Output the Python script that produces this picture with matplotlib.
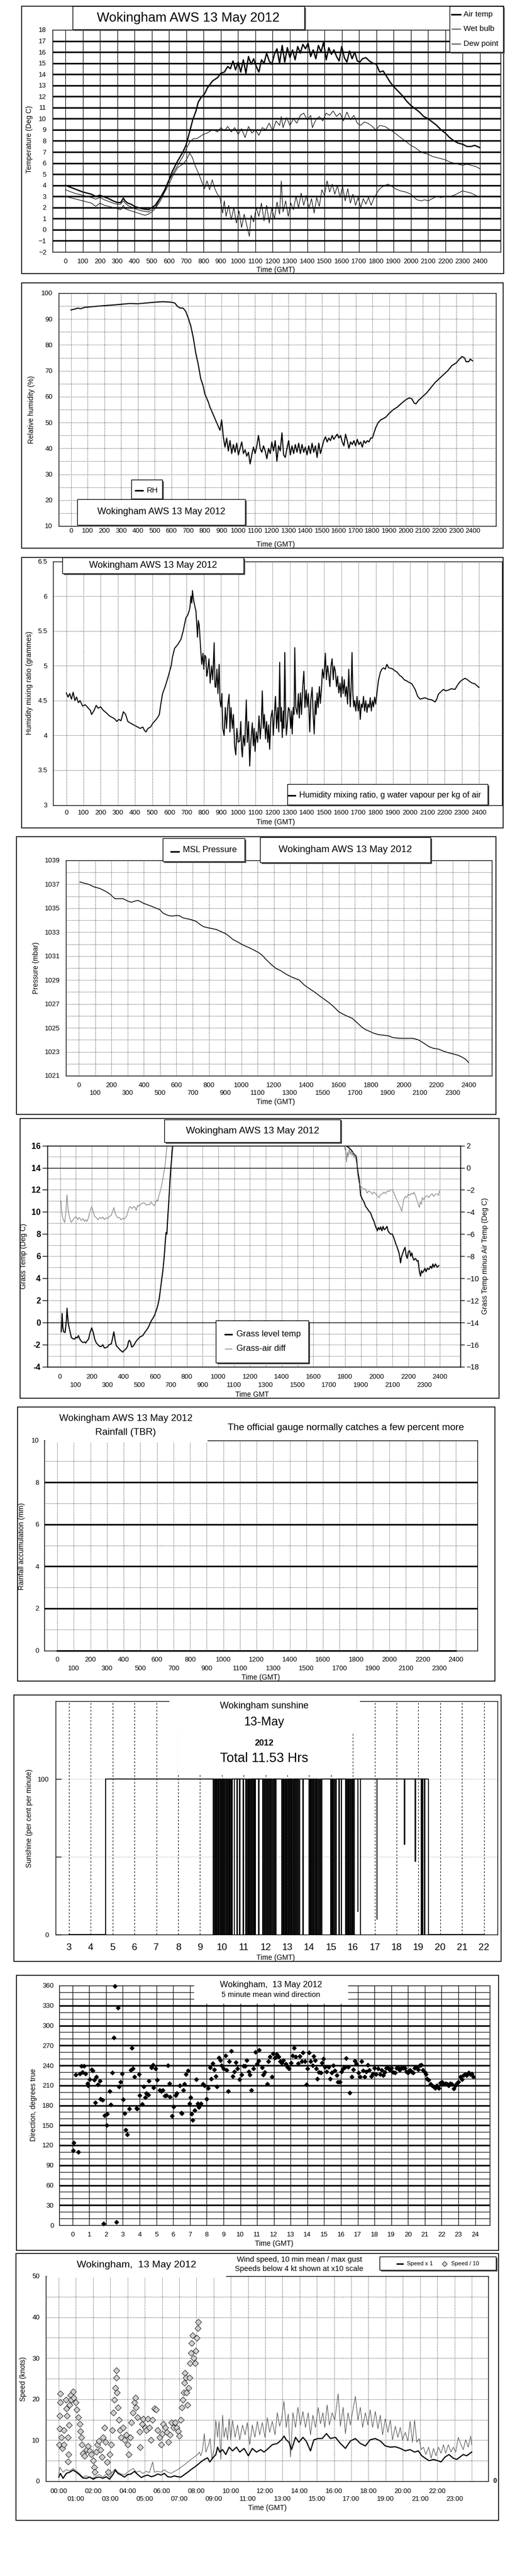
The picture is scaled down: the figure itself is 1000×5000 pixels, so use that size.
import numpy as np
import matplotlib
matplotlib.use("Agg")
import matplotlib.pyplot as plt
from matplotlib.patches import Rectangle
from matplotlib.lines import Line2D

REG = ["Liberation Sans", "DejaVu Sans"]
NARROW = REG
plt.rcParams["font.family"] = REG
plt.rcParams["axes.linewidth"] = 1.0

# ---------------- data ----------------
# time axis for panels 1-6 is HHMM
HHMM_ALL = list(range(0, 2500, 100))
HHMM_EVEN = list(range(0, 2500, 200))
HHMM_ODD = list(range(100, 2400, 200))

AIR_TEMP = [(0, 4.0), (25, 3.85), (50, 3.7), (75, 3.55), (100, 3.4), (125, 3.3), (150, 3.2), (175, 3.0),
            (200, 3.1), (225, 2.95), (250, 2.8), (275, 2.6), (300, 2.45), (320, 2.45), (335, 2.85), (345, 2.6),
            (360, 2.4), (380, 2.3), (400, 2.1), (420, 2.0), (440, 1.9), (460, 1.85), (480, 1.8), (500, 2.0),
            (520, 2.2), (550, 2.9), (575, 3.6), (600, 4.5), (620, 5.3), (650, 6.2), (680, 7.0), (698, 7.6),
            (717, 8.7), (737, 9.9), (756, 10.7), (769, 11.5), (785, 11.9), (804, 12.2), (823, 12.8),
            (852, 13.4), (881, 13.7), (900, 14.1), (920, 14.2), (940, 14.7), (955, 14.5), (970, 15.2),
            (985, 14.4), (1000, 15.1), (1015, 14.2), (1030, 15.3), (1045, 14.1), (1060, 15.6), (1075, 14.9),
            (1090, 15.4), (1105, 14.7), (1120, 14.2), (1135, 15.3), (1150, 15.0), (1165, 15.9), (1180, 15.2),
            (1195, 14.9), (1210, 15.8), (1225, 16.3), (1240, 15.0), (1255, 16.6), (1270, 15.1), (1285, 16.4),
            (1300, 15.5), (1315, 16.2), (1330, 15.3), (1345, 16.5), (1360, 15.9), (1375, 16.7), (1390, 16.3),
            (1405, 16.8), (1420, 15.6), (1435, 16.2), (1450, 15.4), (1465, 16.6), (1480, 16.0), (1495, 16.9),
            (1510, 15.3), (1525, 16.4), (1540, 15.8), (1555, 16.2), (1570, 15.6), (1585, 15.2), (1600, 16.5),
            (1615, 15.5), (1630, 15.1), (1645, 16.1), (1660, 15.4), (1675, 16.0), (1690, 15.2), (1705, 15.1),
            (1720, 15.4), (1740, 15.5), (1760, 15.2), (1780, 15.0), (1800, 14.9), (1820, 14.2), (1840, 14.3),
            (1860, 13.8), (1880, 13.3), (1900, 12.9), (1925, 12.5), (1950, 12.1), (1975, 11.6), (2000, 11.2),
            (2025, 10.9), (2050, 10.6), (2075, 10.2), (2100, 10.0), (2125, 9.7), (2150, 9.4), (2175, 9.0),
            (2200, 8.7), (2225, 8.3), (2250, 8.0), (2275, 7.8), (2300, 7.7), (2325, 7.5), (2350, 7.5),
            (2370, 7.6), (2385, 7.5), (2400, 7.4)]

WET_BULB = [(0, 3.6), (25, 3.45), (50, 3.3), (75, 3.2), (100, 3.1), (125, 3.0), (150, 2.9), (175, 2.75),
            (200, 2.9), (225, 2.7), (250, 2.55), (275, 2.4), (300, 2.3), (320, 2.3), (335, 2.6), (345, 2.4),
            (360, 2.2), (380, 2.05), (400, 1.9), (420, 1.8), (440, 1.7), (460, 1.65), (480, 1.6), (500, 1.8),
            (520, 2.0), (550, 2.8), (575, 3.5), (600, 4.4), (620, 5.0), (650, 5.8), (680, 6.6), (700, 7.3),
            (720, 7.9), (740, 8.2), (760, 8.2), (780, 8.4), (800, 8.6), (820, 8.7), (840, 8.9), (860, 9.0),
            (880, 8.8), (900, 9.2), (920, 8.9), (940, 9.3), (960, 8.8), (980, 9.2), (1000, 8.6), (1020, 9.1),
            (1040, 8.3), (1060, 9.3), (1080, 8.7), (1100, 9.0), (1120, 8.5), (1140, 9.2), (1160, 9.0),
            (1180, 9.6), (1200, 8.9), (1220, 9.8), (1240, 9.4), (1250, 10.2), (1260, 9.2), (1280, 10.1),
            (1300, 9.4), (1320, 10.0), (1340, 9.6), (1360, 10.3), (1380, 10.5), (1400, 9.9), (1420, 10.3),
            (1430, 9.2), (1450, 9.9), (1470, 10.2), (1490, 9.8), (1510, 10.5), (1530, 10.3), (1550, 10.7),
            (1570, 10.2), (1590, 10.5), (1610, 9.8), (1630, 10.6), (1650, 9.9), (1670, 10.3), (1690, 9.6),
            (1710, 9.4), (1730, 9.7), (1750, 9.6), (1770, 9.4), (1790, 9.1), (1800, 9.0), (1820, 9.4),
            (1850, 9.3), (1880, 9.0), (1900, 8.8), (1925, 8.5), (1950, 8.2), (1975, 7.9), (2000, 7.6),
            (2025, 7.4), (2050, 7.1), (2075, 6.9), (2100, 6.8), (2125, 6.6), (2150, 6.5), (2175, 6.4),
            (2200, 6.3), (2225, 6.1), (2250, 6.0), (2275, 5.9), (2300, 5.8), (2325, 5.9), (2350, 5.8),
            (2375, 5.7), (2400, 5.5)]

DEW_POINT = [(0, 3.0), (25, 2.9), (50, 2.8), (75, 2.7), (100, 2.6), (125, 2.5), (150, 2.4), (175, 2.1),
             (200, 2.4), (225, 2.2), (250, 2.1), (275, 2.0), (300, 1.9), (320, 1.8), (335, 2.2), (345, 1.9),
             (360, 1.8), (380, 1.7), (400, 1.6), (420, 1.5), (440, 1.4), (460, 1.3), (480, 1.4), (500, 1.6),
             (520, 1.9), (550, 2.6), (575, 3.4), (600, 4.1), (620, 4.8), (650, 5.6), (680, 5.9), (700, 6.3),
             (720, 6.9), (735, 6.5), (750, 5.8), (770, 5.1), (790, 4.3), (805, 3.7), (820, 4.4), (835, 3.6),
             (850, 4.5), (865, 3.7), (880, 3.2), (895, 2.9), (910, 1.5), (920, 2.6), (930, 1.2), (945, 2.2),
             (960, 0.9), (975, 2.0), (990, 0.6), (1005, 1.7), (1020, 0.2), (1035, 1.4), (1050, 0.4),
             (1065, -0.6), (1075, 1.3), (1090, 0.7), (1105, 2.0), (1120, 1.2), (1135, 2.4), (1150, 0.8),
             (1165, 2.2), (1180, 0.6), (1195, 1.9), (1210, 1.0), (1225, 2.5), (1240, 1.4), (1250, 4.4),
             (1260, 1.6), (1275, 2.6), (1290, 1.2), (1305, 2.4), (1320, 1.8), (1335, 3.0), (1350, 2.0),
             (1365, 3.3), (1380, 2.2), (1395, 3.1), (1410, 1.9), (1425, 2.8), (1440, 1.5), (1455, 2.9),
             (1470, 2.1), (1485, 3.6), (1500, 3.1), (1515, 4.4), (1530, 3.4), (1545, 4.1), (1560, 3.2),
             (1575, 4.0), (1590, 2.9), (1605, 3.9), (1620, 2.6), (1635, 3.7), (1650, 2.4), (1665, 3.2),
             (1680, 2.2), (1695, 2.9), (1710, 2.0), (1725, 2.8), (1740, 2.3), (1755, 2.9), (1770, 2.2),
             (1785, 2.8), (1800, 3.2), (1815, 3.6), (1830, 3.8), (1850, 4.0), (1870, 4.1), (1890, 3.9),
             (1910, 3.7), (1940, 3.5), (1970, 3.4), (2000, 3.2), (2020, 2.9), (2035, 2.7), (2060, 2.6),
             (2080, 2.7), (2100, 2.6), (2125, 2.8), (2150, 3.0), (2175, 2.9), (2200, 3.0), (2225, 3.0),
             (2250, 3.1), (2275, 3.3), (2300, 3.5), (2325, 3.4), (2350, 3.3), (2375, 3.1), (2385, 3.0)]

RH = [(0, 93.5), (20, 93.8), (40, 94.2), (60, 94.0), (80, 94.5), (100, 94.6), (150, 94.9), (200, 95.2),
      (250, 95.4), (300, 95.7), (350, 96.0), (400, 95.9), (450, 96.2), (500, 96.5), (550, 96.7), (600, 96.5),
      (620, 96.2), (635, 95.0), (650, 94.3), (670, 94.2), (685, 93.0), (700, 90.5), (715, 87.5), (730, 83.0),
      (745, 77.0), (760, 72.5), (775, 67.0), (790, 64.0), (800, 61.0), (810, 59.5), (820, 58.0), (830, 56.0),
      (840, 54.5), (850, 53.0), (860, 51.5), (870, 50.0), (880, 48.5), (890, 47.0), (900, 51.0), (910, 44.5),
      (920, 40.5), (930, 44.0), (940, 39.0), (950, 43.0), (960, 38.0), (970, 41.5), (980, 38.5), (990, 42.0),
      (1000, 37.5), (1010, 40.0), (1020, 42.5), (1030, 38.0), (1040, 39.5), (1050, 37.0), (1060, 38.5),
      (1070, 34.0), (1080, 37.5), (1090, 40.5), (1100, 38.0), (1110, 41.0), (1120, 45.0), (1130, 40.0),
      (1140, 38.5), (1150, 41.0), (1160, 39.0), (1170, 36.0), (1180, 40.0), (1190, 38.0), (1200, 42.5),
      (1210, 39.0), (1220, 43.0), (1230, 35.0), (1240, 41.0), (1250, 39.0), (1260, 46.0), (1270, 37.5),
      (1280, 36.5), (1290, 40.0), (1300, 43.0), (1310, 37.5), (1320, 41.0), (1330, 38.0), (1340, 41.5),
      (1350, 38.5), (1360, 42.0), (1370, 38.0), (1380, 41.5), (1390, 38.5), (1400, 40.5), (1410, 37.5),
      (1420, 41.0), (1430, 38.0), (1440, 42.0), (1450, 38.5), (1460, 41.0), (1470, 36.5), (1480, 42.0),
      (1490, 38.0), (1500, 40.5), (1510, 43.0), (1520, 44.5), (1530, 42.5), (1540, 44.0), (1550, 43.0),
      (1560, 45.0), (1570, 43.5), (1580, 44.5), (1590, 45.5), (1600, 44.0), (1610, 45.0), (1620, 42.5),
      (1630, 41.0), (1640, 45.5), (1650, 43.0), (1660, 40.0), (1670, 42.5), (1680, 41.5), (1690, 43.0),
      (1700, 41.0), (1710, 43.5), (1720, 41.5), (1730, 42.5), (1740, 40.5), (1750, 43.0), (1760, 42.0),
      (1770, 43.0), (1780, 42.5), (1790, 44.0), (1800, 44.0), (1810, 46.0), (1820, 48.0), (1835, 50.0),
      (1850, 51.0), (1879, 52.0), (1900, 53.5), (1925, 55.0), (1950, 56.0), (1975, 57.5), (2000, 58.8),
      (2020, 59.5), (2035, 59.2), (2050, 57.5), (2060, 57.2), (2075, 58.5), (2100, 60.0), (2125, 61.5),
      (2150, 63.5), (2175, 65.5), (2200, 67.0), (2225, 68.5), (2250, 70.0), (2275, 72.0), (2300, 73.0),
      (2320, 74.5), (2335, 75.5), (2350, 75.0), (2360, 73.5), (2375, 73.5), (2385, 74.5), (2395, 74.0),
      (2400, 73.8)]

MIXING = [(0, 4.61), (10, 4.55), (20, 4.6), (30, 4.52), (40, 4.62), (50, 4.5), (60, 4.55), (70, 4.47),
          (80, 4.5), (95, 4.42), (110, 4.44), (125, 4.4), (140, 4.36), (147, 4.3), (160, 4.35), (174, 4.43),
          (185, 4.39), (200, 4.41), (215, 4.36), (230, 4.33), (251, 4.28), (265, 4.26), (280, 4.24),
          (294, 4.2), (305, 4.23), (318, 4.21), (332, 4.34), (345, 4.3), (358, 4.2), (370, 4.18), (385, 4.16),
          (400, 4.14), (415, 4.12), (430, 4.1), (445, 4.12), (455, 4.07), (464, 4.05), (475, 4.1),
          (490, 4.12), (505, 4.18), (520, 4.22), (535, 4.27), (541, 4.3), (550, 4.45), (560, 4.6),
          (575, 4.7), (590, 4.82), (599, 4.9), (610, 5.0), (618, 5.13), (630, 5.25), (647, 5.3), (667, 5.38),
          (680, 5.5), (696, 5.69), (705, 5.72), (715, 5.79), (720, 5.85), (725, 6.0), (730, 5.9), (734, 6.08),
          (740, 5.95), (748, 5.85), (754, 5.79), (760, 5.55), (763, 5.41), (768, 5.65), (773, 5.59),
          (780, 5.3), (788, 5.02), (795, 5.18), (800, 4.95), (806, 5.15), (812, 5.12), (817, 4.85),
          (821, 4.9), (830, 5.1), (837, 4.75), (845, 5.0), (852, 4.8), (860, 5.33), (865, 4.7), (870, 4.69),
          (876, 4.95), (882, 4.6), (889, 5.02), (894, 4.5), (899, 4.41), (905, 4.6), (910, 4.1), (918, 4.0),
          (925, 4.4), (932, 4.1), (940, 4.45), (947, 4.59), (952, 4.05), (958, 4.4), (966, 4.1), (972, 4.3),
          (979, 3.85), (986, 3.72), (992, 4.1), (1000, 3.9), (1009, 3.92), (1015, 4.2), (1020, 3.8),
          (1024, 3.69), (1030, 4.0), (1038, 3.85), (1047, 4.51), (1053, 3.9), (1060, 4.2), (1067, 3.56),
          (1073, 3.9), (1082, 4.18), (1088, 3.85), (1093, 4.1), (1098, 3.77), (1105, 4.05), (1113, 3.9),
          (1121, 4.28), (1128, 3.95), (1135, 4.2), (1140, 4.64), (1146, 4.1), (1152, 4.3), (1159, 3.95),
          (1165, 4.2), (1172, 3.9), (1177, 4.15), (1183, 3.8), (1190, 4.25), (1198, 4.36), (1204, 4.0),
          (1210, 4.3), (1217, 4.56), (1223, 4.1), (1230, 4.4), (1236, 4.05), (1241, 5.05), (1247, 4.2),
          (1251, 4.4), (1256, 3.97), (1262, 4.35), (1266, 4.1), (1271, 5.19), (1276, 4.3), (1280, 4.0),
          (1285, 4.15), (1292, 4.4), (1299, 4.36), (1305, 4.1), (1310, 4.35), (1314, 4.02), (1320, 4.4),
          (1325, 4.3), (1329, 5.26), (1335, 4.4), (1343, 4.3), (1350, 4.6), (1355, 4.25), (1362, 4.61),
          (1368, 4.3), (1375, 4.7), (1382, 4.92), (1388, 4.4), (1395, 4.65), (1401, 4.41), (1408, 4.6),
          (1416, 4.05), (1422, 4.5), (1430, 4.69), (1436, 4.3), (1442, 4.02), (1448, 4.5), (1453, 4.3),
          (1459, 4.61), (1465, 4.4), (1472, 4.7), (1478, 4.46), (1485, 4.7), (1490, 4.95), (1498, 4.82),
          (1503, 5.0), (1507, 5.18), (1513, 4.8), (1520, 5.0), (1527, 4.87), (1533, 4.7), (1540, 5.0),
          (1546, 5.1), (1553, 4.8), (1558, 5.0), (1565, 4.92), (1572, 4.7), (1578, 4.85), (1585, 4.61),
          (1592, 4.75), (1598, 4.55), (1604, 4.84), (1610, 4.6), (1617, 4.8), (1623, 4.56), (1630, 4.7),
          (1636, 4.45), (1643, 4.95), (1648, 4.6), (1652, 4.41), (1657, 4.7), (1662, 5.19), (1667, 4.6),
          (1672, 4.41), (1677, 4.5), (1684, 4.35), (1691, 4.56), (1698, 4.35), (1704, 4.5), (1710, 4.23),
          (1716, 4.45), (1722, 4.4), (1729, 4.56), (1735, 4.35), (1742, 4.5), (1749, 4.33), (1755, 4.45),
          (1762, 4.4), (1768, 4.54), (1774, 4.35), (1781, 4.5), (1787, 4.41), (1794, 4.55), (1800, 4.45),
          (1807, 4.61), (1815, 4.78), (1826, 4.9), (1835, 4.95), (1845, 4.97), (1855, 4.95), (1865, 5.02),
          (1875, 4.97), (1894, 4.96), (1910, 4.93), (1923, 4.91), (1940, 4.86), (1952, 4.84), (1965, 4.8),
          (1981, 4.78), (1995, 4.76), (2010, 4.74), (2029, 4.66), (2044, 4.56), (2058, 4.52), (2070, 4.53),
          (2087, 4.54), (2105, 4.52), (2126, 4.51), (2145, 4.48), (2155, 4.52), (2164, 4.59), (2180, 4.63),
          (2193, 4.66), (2208, 4.64), (2222, 4.65), (2240, 4.67), (2261, 4.66), (2275, 4.72), (2290, 4.77),
          (2305, 4.8), (2319, 4.82), (2333, 4.8), (2348, 4.77), (2362, 4.75), (2377, 4.74), (2390, 4.71),
          (2400, 4.69)]

PRESSURE = [(6, 1037.2), (30, 1037.1), (60, 1037.0), (90, 1036.8), (129, 1036.65), (160, 1036.45),
            (190, 1036.2), (221, 1035.8), (250, 1035.8), (272, 1035.8), (300, 1035.6), (323, 1035.5),
            (345, 1035.6), (364, 1035.65), (380, 1035.55), (395, 1035.43), (420, 1035.3), (450, 1035.15),
            (475, 1035.0), (497, 1034.9), (517, 1034.6), (540, 1034.45), (558, 1034.37), (580, 1034.35),
            (600, 1034.4), (620, 1034.37), (640, 1034.2), (660, 1034.14), (690, 1034.05), (722, 1033.9),
            (745, 1033.65), (767, 1033.46), (800, 1033.35), (845, 1033.23), (875, 1033.05), (906, 1032.85),
            (930, 1032.6), (947, 1032.4), (975, 1032.2), (1008, 1031.94), (1040, 1031.75), (1070, 1031.56),
            (1110, 1031.26), (1130, 1031.05), (1151, 1030.73), (1180, 1030.35), (1213, 1029.97),
            (1240, 1029.8), (1274, 1029.5), (1310, 1029.25), (1356, 1029.0), (1390, 1028.55), (1417, 1028.3),
            (1450, 1028.0), (1479, 1027.7), (1510, 1027.4), (1540, 1027.1), (1570, 1026.75), (1601, 1026.33),
            (1640, 1026.05), (1683, 1025.8), (1715, 1025.4), (1744, 1025.04), (1765, 1024.85),
            (1785, 1024.74), (1815, 1024.55), (1847, 1024.43), (1880, 1024.38), (1908, 1024.33),
            (1930, 1024.2), (1949, 1024.16), (1980, 1024.13), (2020, 1024.12), (2051, 1024.13),
            (2070, 1024.08), (2092, 1023.98), (2120, 1023.75), (2153, 1023.45), (2180, 1023.3),
            (2215, 1023.22), (2245, 1023.05), (2276, 1022.92), (2310, 1022.8), (2337, 1022.7),
            (2360, 1022.55), (2378, 1022.4), (2390, 1022.25), (2399, 1022.1)]

# grass temperature goes off the top of the scale in the middle of the day (nan = gap)
GRASS_TEMP = [(8, -0.84), (13, 0.83), (18, -0.5), (23, -0.84), (32, -0.9), (40, 0.2), (44, 1.3), (49, 0.4),
              (53, -0.17), (60, -0.6), (71, -1.34), (80, -1.45), (92, -1.5), (100, -1.3), (108, -1.4),
              (116, -1.17), (125, -1.5), (135, -1.7), (145, -1.8), (155, -1.75), (162, -1.85), (170, -1.67),
              (180, -1.5), (190, -0.9), (200, -0.47), (210, -0.9), (219, -1.5), (229, -1.84), (240, -2.0),
              (250, -2.15), (260, -2.17), (270, -2.0), (280, -2.3), (292, -2.25), (300, -2.2), (310, -2.0),
              (324, -1.92), (332, -1.4), (340, -0.84), (348, -1.6), (356, -2.1), (366, -2.25), (375, -2.4),
              (385, -2.55), (397, -2.67), (405, -2.5), (414, -2.42), (425, -2.2), (432, -1.75), (437, -1.6),
              (445, -1.75), (452, -2.2), (460, -2.17), (470, -1.95), (480, -1.7), (492, -1.5), (505, -1.3),
              (523, -1.17), (535, -0.9), (545, -0.7), (555, -0.5), (565, -0.2), (576, 0.16), (587, 0.4),
              (597, 0.66), (608, 1.1), (618, 1.58), (626, 2.1), (634, 3.0), (642, 3.9), (649, 4.65),
              (655, 5.5), (660, 6.3), (665, 7.4), (670, 8.15), (675, 8.0), (681, 9.64), (688, 11.2),
              (695, 12.97), (703, 14.5), (712, 16.0), (np.nan, np.nan),
              (1805, 16.0), (1826, 15.8), (1845, 15.5), (1858, 15.2), (1868, 15.1), (1873, 14.8),
              (1878, 14.0), (1884, 13.4), (1889, 13.0), (1894, 12.3), (1899, 11.5), (1908, 11.2),
              (1920, 10.9), (1930, 10.5), (1941, 10.3), (1950, 10.1), (1962, 9.9), (1972, 9.5), (1983, 9.15),
              (1993, 8.7), (2004, 8.3), (2010, 8.6), (2018, 8.4), (2025, 8.65), (2033, 8.3), (2040, 8.7),
              (2048, 8.4), (2057, 8.5), (2065, 8.7), (2072, 8.3), (2078, 8.15), (2088, 8.0), (2099, 8.0),
              (2110, 7.6), (2120, 7.15), (2130, 6.8), (2141, 6.3), (2147, 5.8), (2151, 5.4), (2156, 5.9),
              (2162, 6.15), (2170, 6.5), (2179, 6.8), (2186, 6.1), (2193, 5.8), (2200, 6.4), (2208, 6.5),
              (2215, 6.0), (2222, 6.3), (2228, 5.9), (2235, 5.65), (2245, 5.8), (2256, 5.55), (2262, 5.6),
              (2270, 4.6), (2277, 4.2), (2283, 4.7), (2290, 4.5), (2298, 4.7), (2305, 4.9), (2312, 4.6),
              (2320, 4.9), (2330, 4.8), (2340, 5.1), (2348, 4.9), (2355, 5.3), (2362, 5.0), (2372, 5.3),
              (2382, 5.0), (2393, 5.15)]

GRASS_AIR_DIFF = [(6, -3.0), (10, -4.0), (18, -4.6), (29, -4.94), (36, -4.2), (44, -2.44), (48, -3.3),
                  (53, -4.0), (62, -4.6), (71, -4.94), (82, -4.7), (92, -4.5), (103, -4.44), (112, -4.7),
                  (122, -4.5), (134, -4.77), (145, -4.6), (155, -4.85), (162, -4.7), (170, -4.86),
                  (180, -4.5), (190, -3.9), (200, -3.52), (210, -4.0), (219, -4.4), (229, -4.52),
                  (240, -4.7), (250, -4.5), (260, -4.6), (270, -4.45), (280, -4.7), (292, -4.52),
                  (302, -4.6), (312, -4.4), (324, -4.3), (333, -3.9), (340, -3.6), (348, -4.1), (358, -4.4),
                  (366, -4.52), (375, -4.5), (385, -4.7), (395, -4.6), (408, -4.6), (420, -4.4), (430, -3.9),
                  (437, -3.6), (445, -3.52), (455, -3.7), (465, -3.5), (475, -3.6), (481, -3.86),
                  (490, -3.4), (500, -3.5), (510, -3.3), (520, -3.2), (534, -3.19), (545, -3.4), (555, -3.3),
                  (565, -3.36), (575, -3.1), (585, -3.3), (597, -3.44), (605, -3.1), (612, -2.9),
                  (618, -3.02), (623, -2.6), (628, -2.36), (635, -2.0), (642, -1.6), (649, -1.03),
                  (655, -0.5), (660, -0.1), (664, 0.3), (669, 1.0), (674, 1.8), (678, 2.1), (np.nan, np.nan),
                  (1795, 2.1), (1800, 1.6), (1805, 1.8), (1810, 0.5), (1815, 1.4), (1820, 1.0), (1826, 1.7),
                  (1832, 1.2), (1838, 1.5), (1845, 1.1), (1850, 1.4), (1857, 0.9), (1863, 1.2), (1868, 0.8),
                  (1874, 0.3), (1879, -0.6), (1884, -1.03), (1889, -1.4), (1899, -1.7), (1910, -1.85),
                  (1920, -1.9), (1931, -1.95), (1940, -2.3), (1950, -2.1), (1962, -2.2), (1972, -2.4),
                  (1982, -2.2), (1994, -2.36), (2004, -2.55), (2015, -2.7), (2025, -2.4), (2036, -2.36),
                  (2046, -2.2), (2057, -2.35), (2067, -2.1), (2078, -2.15), (2088, -2.0), (2099, -2.0),
                  (2110, -2.3), (2120, -2.7), (2131, -3.0), (2141, -3.36), (2150, -3.6), (2158, -3.94),
                  (2165, -3.4), (2172, -2.86), (2180, -2.6), (2190, -2.7), (2200, -2.36), (2210, -2.5),
                  (2220, -2.3), (2230, -2.4), (2235, -2.2), (2245, -2.5), (2256, -3.02), (2263, -3.3),
                  (2269, -3.6), (2276, -3.1), (2283, -3.3), (2288, -2.7), (2298, -2.9), (2308, -2.6),
                  (2319, -2.53), (2330, -2.7), (2340, -2.45), (2351, -2.36), (2360, -2.6), (2370, -2.4),
                  (2382, -2.36), (2390, -2.5), (2397, -2.1)]

RAIN_T = [0, 2400]
RAIN_MM = [0.0, 0.0]

# sunshine: recorder 03-22h, sun from SUN_ON to SUN_OFF, with dips (start, end, value %)
SUN_HOURS = (3.0, 22.0)
SUN_ON, SUN_OFF = 4.68, 19.47
SUN_DIPS = [(9.60, 9.63, 0), (9.66, 9.70, 0), (9.72, 9.74, 0), (9.77, 9.82, 0), (9.85, 9.87, 0),
            (9.90, 9.95, 0), (9.97, 10.00, 0), (10.02, 10.06, 0), (10.09, 10.11, 0), (10.13, 10.18, 0),
            (10.21, 10.23, 0), (10.26, 10.31, 0), (10.33, 10.36, 0), (10.38, 10.42, 0), (10.45, 10.48, 0),
            (10.56, 10.58, 0), (10.70, 10.72, 0), (10.80, 10.83, 0), (10.98, 11.00, 0),
            (11.10, 11.14, 0), (11.16, 11.20, 0), (11.23, 11.25, 0), (11.28, 11.33, 0), (11.36, 11.38, 0),
            (11.41, 11.45, 0), (11.48, 11.50, 0), (11.52, 11.55, 0), (11.68, 11.70, 0),
            (11.86, 11.90, 0), (11.93, 11.96, 0), (12.00, 12.04, 0), (12.08, 12.10, 0), (12.14, 12.18, 0),
            (12.22, 12.25, 0), (12.30, 12.33, 0), (12.38, 12.42, 0), (12.45, 12.47, 0),
            (12.74, 12.78, 0), (12.81, 12.83, 0), (12.86, 12.90, 0), (12.93, 12.95, 0), (12.98, 13.03, 0),
            (13.06, 13.08, 0), (13.11, 13.15, 0), (13.18, 13.20, 0), (13.24, 13.28, 0), (13.31, 13.33, 0),
            (13.37, 13.41, 0), (13.45, 13.48, 0), (13.52, 13.56, 0), (13.70, 13.72, 0),
            (13.99, 14.03, 0), (14.06, 14.08, 0), (14.11, 14.16, 0), (14.19, 14.21, 0), (14.25, 14.29, 0),
            (14.32, 14.35, 0), (14.39, 14.43, 0), (14.47, 14.50, 0), (14.54, 14.58, 0),
            (14.98, 15.02, 0), (15.05, 15.08, 0), (15.11, 15.15, 0), (15.19, 15.23, 0),
            (15.35, 15.37, 0), (15.47, 15.48, 0),
            (15.66, 15.69, 0), (15.72, 15.76, 0), (15.79, 15.81, 0), (15.84, 15.88, 0), (15.91, 15.94, 0),
            (15.97, 16.00, 0), (16.05, 16.06, 0), (16.22, 16.23, 15), (16.35, 16.36, 0), (17.10, 17.11, 10),
            (18.36, 18.37, 58), (18.85, 18.86, 47), (19.12, 19.14, 0), (19.18, 19.20, 0), (19.28, 19.30, 0)]
SUN_HOUR_TICKS = list(range(3, 23))

WIND_DIR = [(0.04, 112), (0.08, 124), (0.2, 226), (0.34, 110), (0.44, 228), (0.53, 239), (0.6, 230),
            (0.67, 239), (0.79, 228), (0.89, 213), (0.93, 210), (1.03, 219), (1.13, 234), (1.19, 232),
            (1.29, 218), (1.37, 184), (1.43, 223), (1.52, 211), (1.62, 217), (1.68, 190), (1.78, 188),
            (1.86, 2), (1.92, 165), (2.02, 150), (2.06, 167), (2.22, 201), (2.28, 181), (2.36, 229),
            (2.46, 282), (2.51, 359), (2.61, 5), (2.71, 327), (2.77, 208), (2.87, 215), (2.95, 228),
            (3.01, 189), (3.11, 168), (3.17, 143), (3.25, 136), (3.37, 175), (3.47, 233), (3.54, 266),
            (3.6, 235), (3.7, 223), (3.8, 176), (3.86, 175), (3.96, 227), (4.0, 195), (4.14, 182),
            (4.24, 208), (4.33, 192), (4.4, 198), (4.53, 196), (4.55, 217), (4.69, 237), (4.79, 241),
            (4.83, 207), (4.95, 235), (5.05, 218), (5.19, 203), (5.29, 201), (5.39, 203), (5.49, 194),
            (5.58, 195), (5.68, 240), (5.78, 213), (5.82, 193), (5.94, 164), (6.02, 178), (6.14, 195),
            (6.22, 198), (6.38, 210), (6.48, 169), (6.53, 168), (6.61, 203), (6.67, 212), (6.77, 227),
            (6.87, 232), (6.97, 183), (7.03, 192), (7.11, 167), (7.17, 158), (7.27, 173), (7.37, 219),
            (7.47, 183), (7.52, 177), (7.66, 183), (7.76, 212), (7.86, 210), (8.0, 190), (8.08, 206),
            (8.2, 237), (8.28, 220), (8.36, 243), (8.46, 234), (8.55, 224), (8.61, 208), (8.71, 252),
            (8.81, 248), (8.89, 240), (8.99, 235), (9.11, 255), (9.19, 233), (9.29, 201), (9.35, 246),
            (9.45, 262), (9.54, 224), (9.64, 231), (9.74, 245), (9.84, 235), (9.94, 219), (10.08, 226),
            (10.2, 239), (10.3, 239), (10.38, 248), (10.5, 231), (10.57, 226), (10.67, 203), (10.79, 235),
            (10.89, 260), (10.99, 242), (11.09, 247), (11.13, 263), (11.29, 237), (11.37, 226), (11.47, 230),
            (11.62, 212), (11.68, 246), (11.76, 253), (11.88, 223), (11.96, 258), (12.08, 252), (12.16, 257),
            (12.28, 253), (12.38, 246), (12.48, 244), (12.57, 248), (12.71, 242), (12.81, 238), (12.91, 235),
            (13.01, 244), (13.11, 255), (13.21, 266), (13.31, 253), (13.45, 243), (13.54, 254), (13.66, 246),
            (13.74, 259), (13.84, 246), (13.94, 211), (14.0, 235), (14.1, 259), (14.2, 246), (14.3, 240),
            (14.36, 254), (14.46, 248), (14.53, 235), (14.59, 220), (14.69, 230), (14.79, 229), (14.85, 244),
            (14.95, 250), (15.05, 238), (15.15, 231), (15.25, 238), (15.35, 220), (15.45, 229), (15.54, 240),
            (15.64, 232), (15.74, 225), (15.82, 215), (15.94, 215), (16.04, 231), (16.12, 235), (16.22, 237),
            (16.32, 251), (16.44, 238), (16.53, 199), (16.63, 223), (16.73, 234), (16.83, 247), (16.93, 242),
            (17.03, 229), (17.13, 223), (17.23, 246), (17.33, 232), (17.41, 223), (17.5, 231), (17.6, 241),
            (17.7, 233), (17.8, 224), (17.9, 228), (18.0, 236), (18.1, 227), (18.2, 235), (18.32, 227),
            (18.42, 233), (18.51, 225), (18.61, 230), (18.71, 236), (18.81, 236), (18.91, 233), (19.01, 236),
            (19.11, 230), (19.21, 229), (19.31, 236), (19.41, 237), (19.5, 233), (19.6, 236), (19.7, 236),
            (19.8, 236), (19.9, 231), (20.0, 229), (20.1, 233), (20.2, 231), (20.3, 229), (20.4, 236),
            (20.5, 237), (20.59, 234), (20.69, 240), (20.79, 241), (20.89, 233), (20.99, 230), (21.07, 227),
            (21.13, 220), (21.23, 218), (21.33, 212), (21.43, 210), (21.52, 208), (21.62, 206), (21.72, 210),
            (21.82, 206), (21.92, 214), (22.02, 215), (22.12, 212), (22.22, 213), (22.32, 212), (22.42, 210),
            (22.51, 213), (22.61, 212), (22.71, 205), (22.81, 210), (22.91, 213), (23.01, 215), (23.11, 223),
            (23.21, 219), (23.31, 225), (23.41, 227), (23.5, 225), (23.6, 229), (23.7, 227), (23.8, 228),
            (23.9, 223)]
DIR_HOUR_TICKS = list(range(0, 25))

WIND_MEAN = [(0, 1.0), (0.1, 1.9), (0.25, 0.7), (0.44, 1.9), (0.64, 2.2), (0.83, 2.7), (1.02, 2.2),
             (1.2, 1.6), (1.4, 0.8), (1.6, 0.7), (1.8, 1.0), (2.0, 0.5), (2.2, 0.9), (2.37, 1.0), (2.57, 0.7),
             (2.76, 1.1), (2.95, 0.5), (3.15, 1.6), (3.28, 2.7), (3.44, 1.9), (3.63, 1.5), (3.82, 1.0),
             (4.0, 1.6), (4.2, 1.75), (4.4, 2.4), (4.6, 1.6), (4.8, 0.9), (5.0, 1.3), (5.17, 1.5),
             (5.37, 1.1), (5.56, 1.3), (5.75, 1.75), (5.95, 1.5), (6.14, 1.9), (6.33, 1.1), (6.52, 1.0),
             (6.72, 1.3), (6.91, 1.1), (7.1, 1.0), (7.3, 1.6), (7.5, 2.2), (7.68, 2.8), (7.88, 3.4),
             (8.07, 4.0), (8.26, 4.7), (8.46, 5.3), (8.65, 5.7), (8.78, 4.7), (8.94, 5.6), (9.13, 6.5),
             (9.23, 8.3), (9.36, 7.1), (9.52, 7.7), (9.71, 6.5), (9.9, 8.3), (10.1, 7.4), (10.33, 8.3),
             (10.52, 7.1), (10.77, 8.0), (11.02, 6.2), (11.25, 8.0), (11.49, 7.1), (11.74, 7.7), (11.93, 7.1),
             (12.18, 8.0), (12.41, 8.9), (12.7, 9.2), (12.95, 10.1), (13.09, 11.0), (13.22, 10.1),
             (13.38, 9.5), (13.53, 7.7), (13.76, 10.7), (13.96, 9.5), (14.19, 10.7), (14.38, 9.8),
             (14.63, 7.4), (14.83, 10.1), (15.08, 10.4), (15.31, 10.4), (15.56, 11.6), (15.79, 10.4),
             (16.08, 10.7), (16.37, 9.2), (16.66, 8.0), (16.95, 9.8), (17.24, 10.4), (17.53, 9.2),
             (17.82, 8.6), (18.1, 10.1), (18.4, 10.4), (18.69, 9.8), (18.98, 8.6), (19.27, 8.3), (19.56, 8.4),
             (19.85, 8.0), (20.14, 7.4), (20.42, 7.7), (20.68, 7.1), (20.9, 7.4), (21.1, 6.2), (21.3, 5.6),
             (21.52, 5.0), (21.78, 5.3), (22.03, 5.0), (22.22, 4.7), (22.45, 5.9), (22.68, 6.5), (22.93, 5.6),
             (23.13, 5.3), (23.32, 5.9), (23.51, 6.5), (23.71, 6.2), (24.0, 7.1)]

WIND_GUST = [(0, 1.6), (0.06, 3.4), (0.25, 2.2), (0.44, 2.8), (0.64, 2.5), (0.83, 3.1), (1.02, 2.5),
             (1.2, 1.9), (1.4, 1.0), (1.6, 1.3), (1.8, 1.0), (2.0, 0.7), (2.2, 1.3), (2.37, 1.6), (2.57, 1.0),
             (2.76, 1.75), (2.95, 1.0), (3.15, 2.4), (3.28, 3.0), (3.44, 2.2), (3.63, 1.75), (3.82, 1.6),
             (4.0, 2.2), (4.2, 2.8), (4.34, 3.1), (4.5, 2.2), (4.7, 2.5), (4.88, 1.9), (5.08, 2.4),
             (5.27, 2.1), (5.46, 4.7), (5.56, 2.2), (5.75, 2.4), (5.95, 2.2), (6.14, 2.8), (6.33, 2.2),
             (6.52, 1.9), (6.72, 2.4), (6.91, 2.8), (7.1, 3.4), (7.3, 4.0), (7.5, 4.7), (7.68, 5.3),
             (7.88, 5.9), (8.07, 6.5), (8.17, 7.1), (8.26, 6.2), (8.36, 7.7), (8.46, 11.6), (8.55, 7.1),
             (8.71, 8.9), (8.8, 10.4), (8.9, 5.3), (9.03, 8.0), (9.13, 14.9), (9.23, 10.7), (9.32, 14.6),
             (9.42, 5.3), (9.52, 16.1), (9.61, 10.7), (9.71, 13.1), (9.81, 10.1), (9.9, 15.2), (10.0, 10.1),
             (10.1, 14.9), (10.25, 10.7), (10.39, 13.7), (10.52, 10.1), (10.68, 13.7), (10.83, 11.3),
             (10.96, 14.3), (11.1, 8.9), (11.25, 13.7), (11.4, 10.7), (11.54, 14.6), (11.68, 11.3),
             (11.83, 14.3), (11.99, 10.7), (12.12, 15.5), (12.26, 11.9), (12.41, 14.6), (12.57, 11.3),
             (12.7, 16.7), (12.84, 13.4), (12.95, 15.2), (13.09, 19.5), (13.22, 13.1), (13.34, 16.4),
             (13.47, 5.9), (13.61, 16.7), (13.76, 13.1), (13.9, 18.0), (14.05, 13.7), (14.19, 17.0),
             (14.34, 13.1), (14.5, 16.7), (14.63, 11.3), (14.77, 16.1), (14.92, 13.1), (15.08, 18.0),
             (15.21, 14.0), (15.35, 16.7), (15.46, 13.1), (15.6, 18.6), (15.73, 13.7), (15.89, 16.7),
             (16.04, 14.9), (16.24, 21.3), (16.37, 13.4), (16.53, 18.0), (16.66, 11.6), (16.81, 16.7),
             (16.95, 13.7), (17.08, 17.0), (17.24, 20.7), (17.39, 14.9), (17.53, 18.0), (17.66, 13.1),
             (17.82, 16.7), (17.97, 13.7), (18.1, 17.4), (18.24, 13.1), (18.4, 17.0), (18.55, 12.8),
             (18.69, 16.1), (18.82, 11.3), (18.98, 15.2), (19.13, 11.9), (19.27, 14.9), (19.4, 10.1),
             (19.56, 13.4), (19.71, 10.7), (19.85, 13.1), (19.98, 10.1), (20.14, 11.9), (20.29, 9.8),
             (20.42, 14.6), (20.56, 9.5), (20.68, 14.9), (20.81, 9.5), (20.95, 10.4), (21.06, 7.7),
             (21.2, 8.3), (21.33, 6.5), (21.5, 8.3), (21.64, 5.6), (21.78, 8.0), (21.92, 6.2), (22.07, 8.3),
             (22.22, 6.8), (22.36, 8.9), (22.49, 6.8), (22.64, 8.9), (22.8, 7.1), (22.93, 8.3), (23.07, 7.1),
             (23.22, 10.7), (23.38, 8.9), (23.51, 7.7), (23.65, 10.1), (23.8, 8.3), (23.94, 11.0),
             (24.0, 8.9)]

# light winds re-plotted at x10 scale
WIND_X10 = [(0.08, 21.3), (0.1, 19.2), (0.06, 16.0), (0.06, 12.8), (0.02, 8.9), (0.15, 10.7), (0.21, 8.0),
            (0.29, 12.5), (0.31, 8.9), (0.41, 19.8), (0.44, 17.7), (0.48, 16.0), (0.54, 10.7), (0.58, 6.5),
            (0.54, 4.8), (0.6, 13.7), (0.64, 18.6), (0.7, 21.0), (0.73, 19.8), (0.83, 21.9), (0.87, 20.4),
            (0.98, 19.2), (1.06, 17.4), (1.14, 15.6), (1.22, 14.0), (1.27, 12.2), (1.31, 10.7), (1.35, 8.9),
            (1.41, 6.8), (1.5, 6.2), (1.6, 7.7), (1.7, 8.6), (1.8, 7.4), (1.89, 6.5), (1.99, 5.0),
            (2.05, 3.4), (2.08, 2.2), (2.18, 7.1), (2.24, 8.9), (2.34, 9.8), (2.43, 7.7), (2.51, 5.9),
            (2.57, 10.7), (2.66, 13.1), (2.72, 9.5), (2.8, 4.7), (2.86, 2.2), (2.95, 6.5), (3.05, 8.9),
            (3.1, 12.5), (3.18, 16.7), (3.24, 19.8), (3.3, 22.8), (3.34, 25.2), (3.34, 27.0), (3.38, 21.6),
            (3.44, 18.0), (3.49, 14.9), (3.57, 12.5), (3.63, 10.7), (3.73, 13.1), (3.82, 10.1), (3.92, 11.3),
            (4.02, 8.9), (4.07, 6.5), (4.15, 10.7), (4.23, 14.3), (4.31, 16.7), (4.4, 19.2), (4.46, 20.4),
            (4.5, 18.0), (4.59, 15.6), (4.69, 12.0), (4.73, 8.3), (4.85, 14.0), (4.92, 15.2), (5.02, 13.1),
            (5.08, 12.5), (5.17, 15.2), (5.27, 13.1), (5.37, 10.1), (5.46, 14.9), (5.56, 17.7), (5.66, 17.4),
            (5.75, 12.5), (5.85, 10.7), (5.95, 8.9), (6.0, 11.6), (6.08, 14.0), (6.18, 13.1), (6.27, 11.9),
            (6.37, 9.5), (6.47, 11.3), (6.56, 14.3), (6.66, 13.1), (6.76, 14.3), (6.85, 13.1), (6.95, 12.2),
            (7.01, 11.0), (7.1, 14.9), (7.16, 18.0), (7.2, 19.8), (7.26, 21.6), (7.3, 24.0), (7.32, 26.4),
            (7.39, 25.2), (7.43, 21.6), (7.49, 18.6), (7.55, 22.8), (7.59, 25.2), (7.63, 28.8), (7.68, 31.3),
            (7.72, 33.7), (7.78, 35.5), (7.84, 30.0), (7.92, 28.8), (7.97, 31.8), (8.01, 34.9), (8.07, 37.3),
            (8.11, 38.8)]
SPEED_EVEN_H = list(range(0, 25, 2))
SPEED_ODD_H = list(range(1, 24, 2))

# ---------------- layout helpers (pixel coordinates of the 1000x5000 page) ----------------
W, H = 1000, 5000
fig = plt.figure(figsize=(W / 100, H / 100), dpi=100)
fig.patch.set_facecolor("white")


def fx(x):
    return x / W


def fy(y):
    return 1 - y / H


def pt(px):
    return px * 0.72


def xpad(gap, fs):
    return pt(max(gap - 0.37 * fs / 0.72, 0))


def cols(pairs):
    a = np.array(pairs, dtype=float)
    return a[:, 0], a[:, 1]


def add_ax(x0, y0, x1, y1):
    return fig.add_axes([fx(x0), fy(y1), (x1 - x0) / W, (y1 - y0) / H])


def rect(x0, y0, x1, y1, **kw):
    r = Rectangle((fx(x0), fy(y1)), (x1 - x0) / W, (y1 - y0) / H, transform=fig.transFigure, **kw)
    fig.add_artist(r)
    return r


def frame(x0, y0, x1, y1):
    rect(x0, y0, x1, y1, fill=False, ec="black", lw=1.2)


def box(x0, y0, x1, y1, shadow=3):
    if shadow:
        rect(x0 + shadow, y0 + shadow, x1 + shadow, y1 + shadow, fc="#555555", ec="none")
    return rect(x0, y0, x1, y1, fc="white", ec="black", lw=1.0)


def cover(x0, y0, x1, y1):
    rect(x0, y0, x1, y1, fc="white", ec="none")


def text(x, y, s, size, family=REG, ha="center", **kw):
    return fig.text(fx(x), fy(y), s, fontsize=size, family=family, ha=ha, va="center", **kw)


def key_line(x0, x1, y, **kw):
    fig.add_artist(Line2D([fx(x0), fx(x1)], [fy(y), fy(y)], transform=fig.transFigure, **kw))


DOT = (0, (1, 2))
TICK_FS = 9.5
XLAB_FS = 10

# ================= 1: temperatures =================
ax = add_ax(102, 58, 972, 489)
t, v = cols(AIR_TEMP)
ax.plot(t, v, color="black", lw=1.8, zorder=3)
t, v = cols(WET_BULB)
ax.plot(t, v, color="black", lw=0.8, zorder=3)
t, v = cols(DEW_POINT)
ax.plot(t, v, color="black", lw=0.8, zorder=3)
ax.set_xlim(-75, 2520)
ax.set_ylim(-2, 18)
ax.set_xticks(HHMM_ALL)
ax.set_yticks(np.arange(-2, 19))
ax.set_axisbelow(True)
ax.grid(axis="x", color="black", lw=0.8)
ax.grid(axis="y", color="black", lw=2.2)
ax.get_ygridlines()[0].set_visible(False)
ax.get_ygridlines()[-1].set_visible(False)
ax.tick_params(length=0, labelsize=TICK_FS)
ax.tick_params(axis="x", pad=xpad(18, TICK_FS))
ax.tick_params(axis="y", pad=pt(12))
frame(42, 12, 978, 531)
box(141, 12, 591, 57)
text(365, 35, "Wokingham AWS 13 May 2012", 18.5)
box(873, 12, 977, 101)
key_line(877, 894, 27.7, color="black", lw=2.2)
key_line(877, 894, 56.4, color="black", lw=0.9)
key_line(877, 894, 84.8, color="black", lw=0.9)
text(900, 27.7, "Air temp", 11, ha="left")
text(900, 56.4, "Wet bulb", 11, ha="left")
text(900, 84.8, "Dew point", 11, ha="left")
text(535, 524, "Time (GMT)", XLAB_FS)
text(57, 271, "Temperature (Deg C)", 10, rotation=90)

# ================= 2: relative humidity =================
ax = add_ax(114, 569, 963, 1021)
t, v = cols(RH)
ax.plot(t, v, color="black", lw=1.5, zorder=3)
ax.set_xlim(-73, 2538)
ax.set_ylim(10, 100)
ax.set_xticks(HHMM_ALL)
ax.set_yticks(np.arange(10, 101, 10))
ax.set_yticks(np.arange(15, 100, 10), minor=True)
ax.set_axisbelow(True)
ax.grid(which="both", color="black", lw=0.7, ls=DOT)
ax.tick_params(which="both", length=0, labelsize=TICK_FS)
ax.tick_params(axis="x", pad=xpad(9, TICK_FS))
ax.tick_params(axis="y", pad=pt(12))
frame(42, 549, 977, 1064)
box(255, 931, 315, 968)
key_line(263, 277, 951.7, color="black", lw=2.2)
text(285, 951.7, "RH", 11, ha="left")
box(150, 969, 476, 1019)
text(313, 994, "Wokingham AWS 13 May 2012", 13)
text(535, 1057, "Time (GMT)", XLAB_FS)
text(61, 795.5, "Relative humidity (%)", 10, rotation=90)

# ================= 3: humidity mixing ratio =================
ax = add_ax(103, 1089.5, 975, 1562.5)
t, v = cols(MIXING)
ax.plot(t, v, color="black", lw=1.4, zorder=3)
ax.set_xlim(-77, 2535)
ax.set_ylim(3, 6.5)
ax.set_xticks(HHMM_ALL)
yt = np.arange(3, 6.51, 0.5)
ax.set_yticks(yt, labels=[f"{y:g}" for y in yt])
ax.set_axisbelow(True)
ax.grid(color="black", lw=0.7, ls=DOT)
ax.tick_params(length=0, labelsize=TICK_FS)
ax.tick_params(axis="x", pad=xpad(14.5, TICK_FS))
ax.tick_params(axis="y", pad=pt(11))
frame(42, 1081.5, 977, 1607)
box(121, 1081.5, 473, 1113)
text(297, 1098, "Wokingham AWS 13 May 2012", 13)
lg = box(558, 1522, 947, 1562)
key_line(560, 573, 1543.5, color="black", lw=2.2)
txt = text(581, 1543.5, "Humidity mixing ratio, g water vapour per kg of air", 11.5, ha="left")
txt.set_clip_path(lg)
text(535, 1596, "Time (GMT)", XLAB_FS)
text(57, 1325, "Humidity mixing ratio (grammes)", 10, rotation=90)

# ================= 4: pressure =================
ax = add_ax(128, 1670, 955, 2088)
t, v = cols(PRESSURE)
ax.plot(t, v, color="black", lw=1.1, zorder=3)
ax.set_xlim(-80, 2542)
ax.set_ylim(1021, 1039)
ax.set_yticks(np.arange(1021, 1040, 2))
ax.set_yticks(np.arange(1022, 1039, 2), minor=True)
ax.set_xticks(HHMM_EVEN)
ax.set_xticks(HHMM_ODD, labels=[str(h) for h in HHMM_ODD], minor=True)
ax.set_axisbelow(True)
ax.grid(which="both", color="black", lw=0.7, ls=DOT)
ax.tick_params(which="both", length=0, labelsize=TICK_FS)
ax.tick_params(axis="x", which="major", pad=xpad(18, TICK_FS))
ax.tick_params(axis="x", which="minor", pad=xpad(33, TICK_FS))
ax.tick_params(axis="y", pad=pt(11))
frame(32, 1623.5, 963, 2162.5)
box(316, 1627, 475, 1672)
key_line(332, 347, 1652.7, color="black", lw=2.2)
text(355, 1649, "MSL Pressure", 12, ha="left")
box(505, 1625, 836, 1674)
text(670, 1649, "Wokingham AWS 13 May 2012", 13.5)
text(535, 2139, "Time (GMT)", XLAB_FS)
text(70, 1879, "Pressure (mbar)", 10, rotation=90)

# ================= 5: grass temperature =================
ax = add_ax(92, 2223.6, 894, 2653)
axb = ax.twinx()
t, v = cols(GRASS_TEMP)
ax.plot(t, v, color="black", lw=1.5, zorder=3)
t, v = cols(GRASS_AIR_DIFF)
axb.plot(t, v, color="#808080", lw=0.9)
ax.set_xlim(-80, 2529)
ax.set_ylim(-4, 16)
axb.set_ylim(-18, 2)
ax.axhline(0, color="black", lw=1.0)
axb.axhline(0, color="black", lw=1.0)
ax.set_yticks(np.arange(-4, 17, 2))
ax.set_yticklabels([str(y) for y in range(-4, 17, 2)], fontweight="bold", fontsize=11.5)
ax.set_yticks(np.arange(-3, 16, 2), minor=True)
axb.set_yticks(np.arange(-18, 3, 2))
ax.set_xticks(HHMM_EVEN)
ax.set_xticks(HHMM_ODD, labels=[str(h) for h in HHMM_ODD], minor=True)
ax.set_axisbelow(True)
ax.grid(which="both", color="black", lw=0.7, ls=DOT)
ax.tick_params(axis="x", which="both", length=0, labelsize=TICK_FS)
ax.tick_params(axis="x", which="major", pad=xpad(19, TICK_FS))
ax.tick_params(axis="x", which="minor", pad=xpad(35, TICK_FS))
ax.tick_params(axis="y", which="major", length=pt(10), width=1, pad=pt(3))
ax.tick_params(axis="y", which="minor", length=0)
axb.tick_params(axis="y", length=pt(8), width=1, labelsize=10.5, pad=pt(3))
frame(39, 2171, 969, 2714)
box(319, 2172.5, 661, 2217)
text(490, 2195, "Wokingham AWS 13 May 2012", 13.5)
box(419, 2563, 599, 2645)
key_line(437, 450, 2589.6, color="black", lw=2.2)
key_line(437, 450, 2617.9, color="#808080", lw=1.0)
text(459, 2589.6, "Grass level temp", 12, ha="left")
text(459, 2617.9, "Grass-air diff", 12, ha="left")
text(490, 2707, "Time GMT", XLAB_FS)
text(46, 2438.6, "Grass Temp (Deg C)", 10, rotation=90)
text(942, 2437.7, "Grass Temp minus Air Temp (Deg C)", 10, rotation=90)

# ================= 6: rainfall =================
ax = add_ax(86, 2795.6, 927, 3203.6)
ax.plot(RAIN_T, RAIN_MM, color="black", lw=2.2, clip_on=False, zorder=3)
ax.set_xlim(-78, 2530)
ax.set_ylim(0, 10)
ax.set_yticks(np.arange(0, 11, 2))
ax.set_yticks(np.arange(1, 10, 2), minor=True)
ax.set_xticks(HHMM_EVEN)
ax.set_xticks(HHMM_ODD, labels=[str(h) for h in HHMM_ODD], minor=True)
ax.set_axisbelow(True)
ax.grid(axis="x", which="both", color="black", lw=0.7, ls=DOT)
ax.grid(axis="y", which="minor", color="black", lw=0.7, ls=DOT)
ax.grid(axis="y", which="major", color="black", lw=2.2)
ax.get_ygridlines()[0].set_visible(False)
ax.get_ygridlines()[-1].set_visible(False)
ax.tick_params(which="both", length=0, labelsize=TICK_FS)
ax.tick_params(axis="x", which="major", pad=xpad(17.4, TICK_FS))
ax.tick_params(axis="x", which="minor", pad=xpad(34, TICK_FS))
ax.tick_params(axis="y", pad=pt(10))
frame(34, 2731, 961, 3263)
cover(88, 2738, 403, 2801)
text(244, 2753, "Wokingham AWS 13 May 2012", 13.5)
text(244, 2780, "Rainfall (TBR)", 13.5)
text(672, 2772, "The official gauge normally catches a few percent more", 13.5)
text(506, 3256, "Time (GMT)", XLAB_FS)
text(42, 3001.7, "Rainfall accumulation (mm)", 10, rotation=90)

# ================= 7: sunshine =================
ax = add_ax(108, 3302, 966, 3755)
sun_t = [SUN_HOURS[0], SUN_ON, SUN_ON]
sun_v = [0, 0, 100]
for a, b, lo in SUN_DIPS:
    sun_t += [a, a, b, b]
    sun_v += [100, lo, lo, 100]
sun_t += [SUN_OFF, SUN_OFF, SUN_HOURS[1]]
sun_v += [100, 0, 0]
ax.plot(sun_t, sun_v, color="black", lw=1.3, zorder=3)
ax.set_xlim(2.39, 22.62)
ax.set_ylim(0, 150)
ax.set_xticks(SUN_HOUR_TICKS)
ax.set_xticklabels([str(h) for h in SUN_HOUR_TICKS], fontsize=13.5)
ax.set_yticks([0, 50, 100], labels=["0", "", "100"])
ax.set_axisbelow(True)
ax.grid(axis="x", color="black", lw=0.8, ls=(0, (3, 3)))
ax.grid(axis="y", color="#999999", lw=0.8, ls=DOT)
ax.get_ygridlines()[0].set_visible(False)
ax.tick_params(axis="x", length=0, pad=xpad(23.6, 13.5))
ax.tick_params(axis="y", direction="in", length=pt(11), width=1, labelsize=TICK_FS, pad=pt(13))
frame(27, 3290, 973, 3807)
cover(329, 3296, 699, 3364)
cover(346, 3364, 684, 3443)
text(513, 3311, "Wokingham sunshine", 13)
text(513, 3343, "13-May", 17)
text(513, 3384, "2012", 12, fontweight="bold")
text(513, 3412.5, "Total 11.53 Hrs", 18.5)
text(535, 3800, "Time (GMT)", XLAB_FS)
text(57, 3529.5, "Sunshine (per cent per minute)", 10, rotation=90)

# ================= 8: wind direction =================
ax = add_ax(115, 3854, 951, 4319)
t, v = cols(WIND_DIR)
ax.plot(t, v, ls="none", marker="D", ms=4.5, color="black", clip_on=False, zorder=3)
ax.set_xlim(-0.79, 24.87)
ax.set_ylim(0, 360)
ax.set_yticks(np.arange(0, 361, 30))
ax.set_yticks([d for d in range(10, 360, 10) if d % 30], minor=True)
ax.set_xticks(DIR_HOUR_TICKS)
ax.set_axisbelow(True)
ax.grid(axis="x", color="black", lw=0.8)
ax.grid(axis="y", which="minor", color="black", lw=0.8)
ax.grid(axis="y", which="major", color="black", lw=2.2)
ax.get_ygridlines()[0].set_visible(False)
ax.get_ygridlines()[-1].set_visible(False)
ax.tick_params(which="both", length=0, labelsize=TICK_FS)
ax.tick_params(axis="x", pad=xpad(17.5, TICK_FS))
ax.tick_params(axis="y", pad=pt(10.5))
frame(32, 3834, 968, 4368)
cover(377, 3850, 676, 3889)
text(526, 3853, "Wokingham,  13 May 2012", 12)
text(526, 3872.5, "5 minute mean wind direction", 10.5)
text(532, 4355, "Time (GMT)", XLAB_FS)
text(64.5, 4085.7, "Direction, degrees true", 10, rotation=90)

# ================= 9: wind speed =================
ax = add_ax(89, 4418, 948, 4816)
t, v = cols(WIND_GUST)
ax.plot(t, v, color="#555555", lw=0.8, zorder=3)
t, v = cols(WIND_MEAN)
ax.plot(t, v, color="black", lw=1.6, zorder=4)
t, v = cols(WIND_X10)
ax.plot(t, v, ls="none", marker="D", ms=6, mfc="#d0d0d0", mec="black", mew=0.6, zorder=5)
ax.set_xlim(-0.75, 24.96)
ax.set_ylim(0, 50)
ax.set_xticks(SPEED_EVEN_H, labels=[f"{h:02d}:00" if h < 24 else "" for h in SPEED_EVEN_H])
ax.set_xticks(SPEED_ODD_H, labels=[f"{h:02d}:00" for h in SPEED_ODD_H], minor=True)
ax.set_yticks(np.arange(0, 51, 10))
ax.set_yticks(np.arange(5, 50, 10), minor=True)
ax.set_axisbelow(True)
ax.grid(which="both", color="black", lw=0.7, ls=DOT)
ax.tick_params(which="both", length=0, labelsize=TICK_FS)
ax.tick_params(axis="x", which="major", pad=xpad(19, TICK_FS))
ax.tick_params(axis="x", which="minor", pad=xpad(34, TICK_FS))
ax.tick_params(axis="y", pad=pt(12))
frame(31, 4374, 968, 4892)
cover(91, 4412, 439, 4421)
text(265, 4396.6, "Wokingham,  13 May 2012", 14)
text(581, 4386, "Wind speed, 10 min mean / max gust", 10.5)
text(581, 4404, "Speeds below 4 kt shown at x10 scale", 10.5)
box(737, 4380, 963, 4406)
key_line(771, 782, 4394, color="black", lw=2)
text(790, 4394, "Speed x 1", 8, ha="left")
fig.add_artist(Line2D([fx(863)], [fy(4394)], transform=fig.transFigure, ls="none", marker="D", ms=5,
                      mfc="#d0d0d0", mec="black", mew=0.6))
text(876, 4394, "Speed / 10", 8, ha="left")
text(961, 4816, "0", 9, fontweight="bold")
text(519, 4868, "Time (GMT)", XLAB_FS)
text(45, 4617.8, "Speed (knots)", 10, rotation=90)

fig.savefig("out.png", dpi=100)
